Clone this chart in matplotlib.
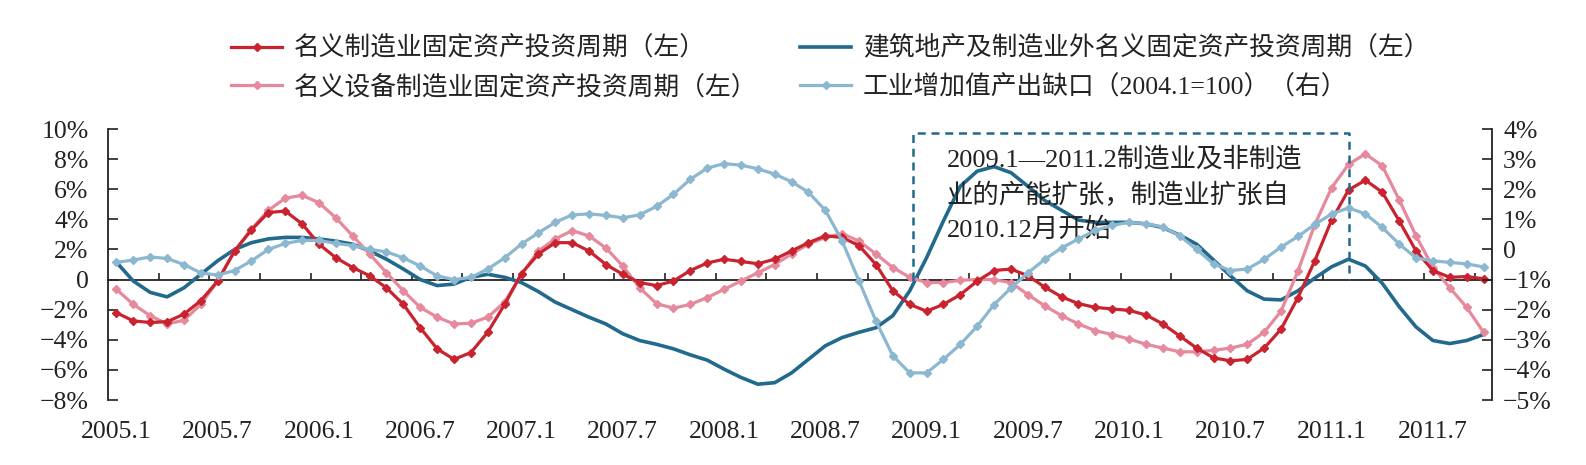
import matplotlib
matplotlib.use("Agg")
import matplotlib.pyplot as plt
from matplotlib.ticker import FixedLocator

plt.rcParams["font.family"] = ["Liberation Serif", "Noto Sans CJK SC"]
plt.rcParams["axes.unicode_minus"] = True

# ---- data: monthly, 2005.1 .. 2011.10 ----
months = list(range(82))
x_labels = ["2005.1", "2005.7", "2006.1", "2006.7", "2007.1", "2007.7", "2008.1",
            "2008.7", "2009.1", "2009.7", "2010.1", "2010.7", "2011.1", "2011.7"]
x_label_pos = list(range(0, 82, 6))
x_minor_pos = [i + 2.5 for i in range(0, 81, 3)]

# 名义制造业固定资产投资周期 (left, %)
mfg = [-2.2, -2.75, -2.85, -2.8, -2.3, -1.4, -0.1, 1.9, 3.3, 4.45,
       4.55, 3.7, 2.35, 1.45, 0.8, 0.25, -0.55, -1.65, -3.2, -4.6,
       -5.3, -4.85, -3.5, -1.65, 0.4, 1.7, 2.45, 2.45, 1.9, 1.0,
       0.35, -0.2, -0.4, -0.1, 0.6, 1.1, 1.35, 1.2, 1.05, 1.35,
       1.9, 2.45, 2.9, 2.8, 2.25, 1.0, -0.75, -1.65, -2.1, -1.65,
       -1.0, -0.1, 0.6, 0.7, 0.25, -0.5, -1.15, -1.6, -1.85, -1.95,
       -2.05, -2.35, -2.95, -3.75, -4.55, -5.2, -5.4, -5.3, -4.55, -3.3,
       -1.2, 1.25, 3.95, 5.95, 6.6, 5.8, 3.9, 1.9, 0.6, 0.15,
       0.2, 0.05]

# 建筑地产及制造业外名义固定资产投资周期 (left, %)
non_mfg = [1.15, -0.1, -0.85, -1.15, -0.55, 0.35, 1.25, 2.0, 2.45, 2.7,
           2.8, 2.8, 2.7, 2.55, 2.35, 1.9, 1.35, 0.7, 0.0, -0.4,
           -0.3, 0.15, 0.35, 0.15, -0.2, -0.8, -1.5, -2.0, -2.5, -2.95,
           -3.6, -4.05, -4.3, -4.6, -5.0, -5.35, -5.95, -6.5, -6.95, -6.85,
           -6.2, -5.3, -4.4, -3.85, -3.5, -3.2, -2.4, -0.75, 1.45, 3.9,
           6.2, 7.2, 7.5, 7.1, 6.2, 5.25, 4.6, 3.95, 3.8, 3.8,
           3.8, 3.7, 3.45, 2.95, 2.35, 1.3, 0.25, -0.75, -1.3, -1.35,
           -0.75, 0.1, 0.85, 1.35, 0.9, -0.25, -1.8, -3.15, -4.05, -4.25,
           -4.05, -3.65]

# 名义设备制造业固定资产投资周期 (left, %)
equip = [-0.65, -1.65, -2.4, -2.95, -2.7, -1.65, -0.1, 1.9, 3.35, 4.6,
         5.4, 5.6, 5.1, 4.1, 2.9, 1.7, 0.45, -0.75, -1.85, -2.5,
         -2.95, -2.9, -2.5, -1.5, 0.35, 1.9, 2.7, 3.25, 2.9, 2.1,
         0.9, -0.55, -1.6, -1.9, -1.65, -1.2, -0.65, -0.1, 0.45, 1.0,
         1.7, 2.35, 2.8, 3.05, 2.55, 1.7, 0.8, 0.15, -0.2, -0.2,
         -0.05, 0.0, 0.0, -0.2, -1.0, -1.75, -2.4, -2.95, -3.4, -3.65,
         -3.95, -4.3, -4.55, -4.8, -4.8, -4.7, -4.55, -4.3, -3.5, -2.1,
         0.55, 3.65, 6.1, 7.65, 8.35, 7.55, 5.3, 2.9, 0.8, -0.55,
         -1.85, -3.5]

# 工业增加值产出缺口 (right, %)
gap = [-0.43, -0.35, -0.25, -0.3, -0.5, -0.78, -0.85, -0.7, -0.38, 0.0,
       0.2, 0.3, 0.3, 0.2, 0.13, 0.0, -0.08, -0.28, -0.55, -0.88,
       -1.0, -0.93, -0.65, -0.28, 0.18, 0.55, 0.9, 1.15, 1.18, 1.13,
       1.05, 1.15, 1.43, 1.83, 2.33, 2.7, 2.85, 2.8, 2.68, 2.5,
       2.25, 1.9, 1.3, 0.28, -1.05, -2.38, -3.53, -4.1, -4.1, -3.65,
       -3.15, -2.55, -1.83, -1.28, -0.78, -0.33, 0.05, 0.35, 0.63, 0.8,
       0.9, 0.85, 0.75, 0.45, 0.0, -0.48, -0.7, -0.65, -0.33, 0.08,
       0.43, 0.83, 1.18, 1.38, 1.18, 0.73, 0.18, -0.28, -0.38, -0.43,
       -0.48, -0.58]

left_ticks = [-8, -6, -4, -2, 0, 2, 4, 6, 8, 10]
left_labels = ["−8%", "−6%", "−4%", "−2%", "0", "2%", "4%", "6%", "8%", "10%"]
right_ticks = [-5, -4, -3, -2, -1, 0, 1, 2, 3, 4]
right_labels = ["−5%", "−4%", "−3%", "−2%", "−1%", "0", "1%", "2%", "3%", "4%"]

labels = ["名义制造业固定资产投资周期（左）",
          "建筑地产及制造业外名义固定资产投资周期（左）",
          "名义设备制造业固定资产投资周期（左）",
          "工业增加值产出缺口（2004.1=100）（右）"]

# expansion window (month index) and note
box_start, box_end, box_top = 47.2, 73, 9.75
note = "2009.1—2011.2制造业及非制造\n业的产能扩张，制造业扩张自\n2010.12月开始"

RED = "#c8232f"
NAVY = "#22698e"
PINK = "#e6899c"
SKY = "#8bb7d1"
TXT = "#222222"

fig = plt.figure(figsize=(15.86, 4.65), dpi=100)
ax = fig.add_axes([108 / 1586, 1 - 400 / 465, 1384 / 1586, 271 / 465])
ax2 = ax.twinx()

l1, = ax.plot(months, mfg, color=RED, lw=2.3, marker="D", ms=3.8, zorder=4)
l2, = ax.plot(months, non_mfg, color=NAVY, lw=2.6, zorder=3)
l3, = ax.plot(months, equip, color=PINK, lw=2.3, marker="D", ms=3.8, zorder=3)
l4, = ax2.plot(months, gap, color=SKY, lw=2.3, marker="D", ms=3.8)

ax.set_xlim(-0.5, 81.5)
ax.set_ylim(-8, 10)
ax2.set_ylim(-5, 4)

# axes look
for s in ["top", "right"]:
    ax.spines[s].set_visible(False)
ax.spines["bottom"].set_position(("data", 0))
ax.spines["left"].set_color(TXT)
ax.spines["bottom"].set_color(TXT)
ax.spines["left"].set_linewidth(1.3)
ax.spines["bottom"].set_linewidth(1.3)
for s in ["top", "left", "bottom"]:
    ax2.spines[s].set_visible(False)
ax2.spines["right"].set_color(TXT)
ax2.spines["right"].set_linewidth(1.3)

ax.xaxis.set_major_locator(FixedLocator(x_minor_pos))
ax.tick_params(axis="x", direction="in", length=5, width=1.2, color=TXT, labelbottom=False)

ax.set_yticks(left_ticks, left_labels)
ax.tick_params(axis="y", direction="in", length=7, width=1.2, color=TXT,
               labelsize=18.5, pad=14, labelcolor=TXT)
ax2.set_yticks(right_ticks, right_labels)
ax2.tick_params(axis="y", direction="in", length=7, width=1.2, color=TXT,
                labelsize=18.5, pad=8, labelcolor=TXT)

sec = ax.secondary_xaxis("bottom")
sec.set_xticks(x_label_pos, x_labels)
sec.tick_params(length=0, labelsize=18.5, pad=15, labelcolor=TXT)
sec.spines["bottom"].set_visible(False)

# dashed expansion box + note
ax.plot([box_start, box_start, box_end, box_end], [0, box_top, box_top, 0],
        color=NAVY, lw=1.8, ls=(0, (3.2, 2.3)), zorder=5)
ax.text(49.2, 8.8, note, fontsize=19, color=TXT, va="top", ha="left",
        linespacing=1.5, zorder=6)

fig.legend([l1, l3, l2, l4], [labels[0], labels[2], labels[1], labels[3]],
           ncol=2, loc="upper left", bbox_to_anchor=(231 / 1586, 1 - 36 / 465),
           frameon=False, fontsize=18.5, handlelength=2.0, handletextpad=0.45,
           columnspacing=1.65, labelspacing=0.55, borderpad=0, borderaxespad=0,
           labelcolor=TXT)

fig.savefig("out.png", dpi=100)
